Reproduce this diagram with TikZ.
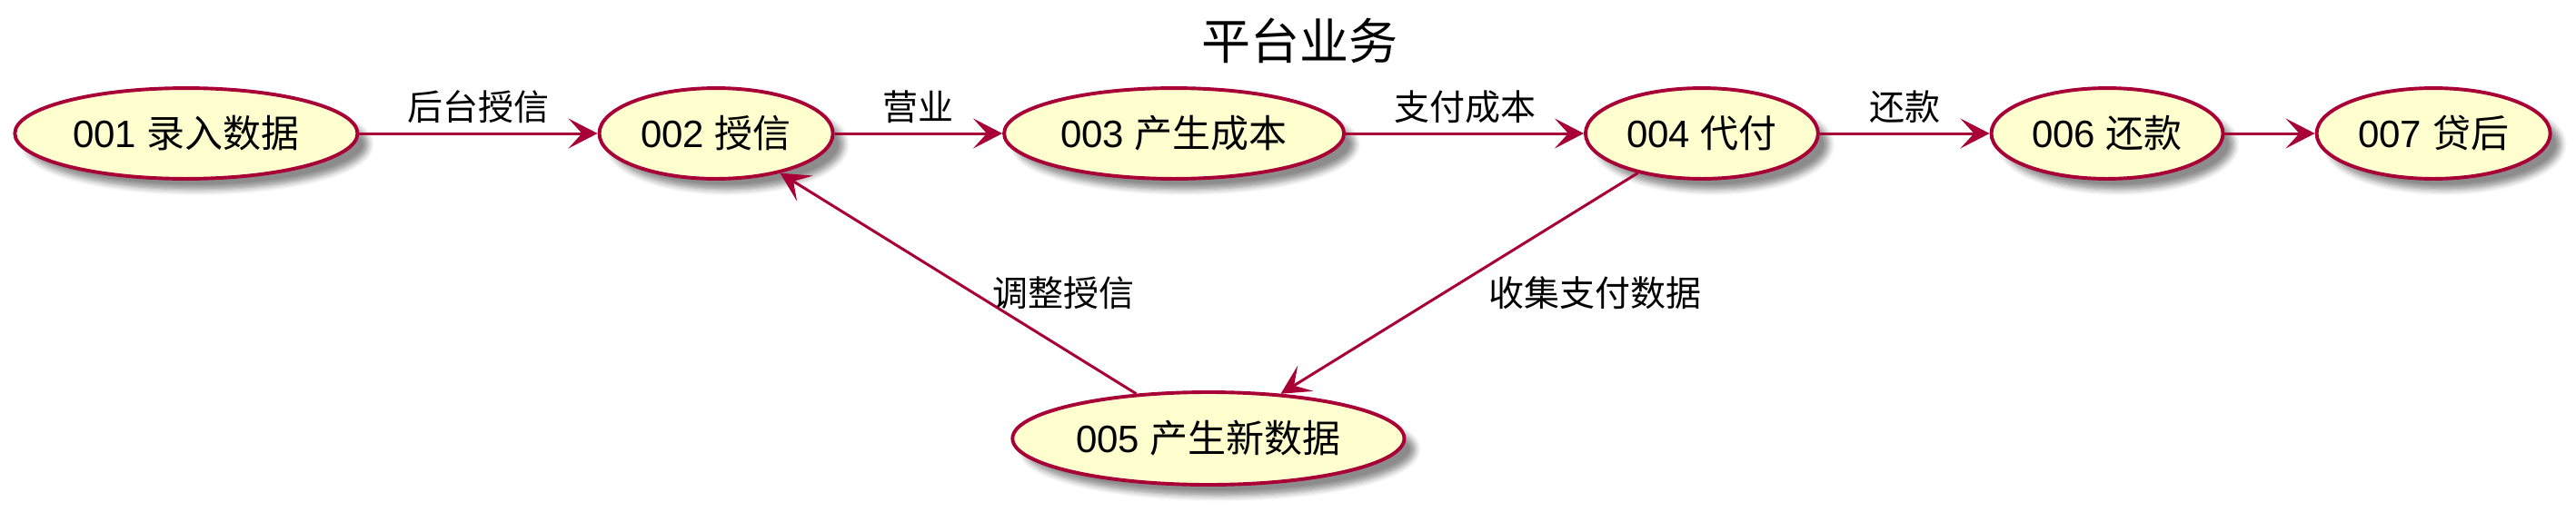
\documentclass[tikz,border=0pt]{standalone}
\usepackage{fontspec}
\setmainfont{Liberation Sans}
\newfontfamily\cjk{Noto Sans CJK SC}
\usetikzlibrary{arrows.meta,shapes.geometric,shadows.blur}
\definecolor{ucline}{HTML}{A80036}
\definecolor{ucfill}{HTML}{FEFECE}
\tikzset{uc/.style={ellipse, draw=ucline, fill=ucfill, line width=1.3pt, minimum height=33.3pt, inner sep=0pt,
    font=\fontsize{14}{16}\selectfont,
    blur shadow={shadow xshift=4pt, shadow yshift=-4pt, shadow blur steps=6, shadow opacity=45}},
  flow/.style={draw=ucline, line width=1pt, -{Stealth[length=10.7pt, width=11pt, inset=5pt]}},
  lbl/.style={font=\fontsize{13}{15}\selectfont}}

\begin{document}
\begin{tikzpicture}[x=1pt, y=1pt]
      \useasboundingbox (0,0) rectangle (945,-187.67);
      \node [font=\fontsize{18}{21}\selectfont\cjk] (title) at (476.7,-14.8) {平台业务};
      \node [uc, minimum width=125.7pt] (r001) at (68.3,-49) {001 \cjk 录入数据};
      \node [uc, minimum width=85.7pt] (r002) at (262.7,-49) {002 \cjk 授信};
      \node [uc, minimum width=124.7pt] (r003) at (430.7,-49) {003 \cjk 产生成本};
      \node [uc, minimum width=85.3pt] (r004) at (624.3,-49) {004 \cjk 代付};
      \node [uc, minimum width=85pt] (r006) at (773,-49) {006 \cjk 还款};
      \node [uc, minimum width=85.7pt] (r007) at (892.7,-49) {007 \cjk 贷后};
      \node [uc, minimum width=143.7pt, minimum height=34pt] (r005) at (443.3,-161) {005 \cjk 产生新数据};
      \draw [flow] (r001) -- node [lbl, above] (l12) {\cjk 后台授信} (r002);
      \draw [flow] (r002) -- node [lbl, above] (l23) {\cjk 营业} (r003);
      \draw [flow] (r003) -- node [lbl, above] (l34) {\cjk 支付成本} (r004);
      \draw [flow] (r004) -- node [lbl, above] (l46) {\cjk 还款} (r006);
      \draw [flow] (r006) -- (r007);
      \draw [flow] (r004) -- node [lbl, right=7pt, yshift=-3.5pt] (l45) {\cjk 收集支付数据} (r005);
      \draw [flow] (r005) -- node [lbl, right=9pt, yshift=-3.5pt] (l52) {\cjk 调整授信} (r002);
    \end{tikzpicture}
\end{document}
